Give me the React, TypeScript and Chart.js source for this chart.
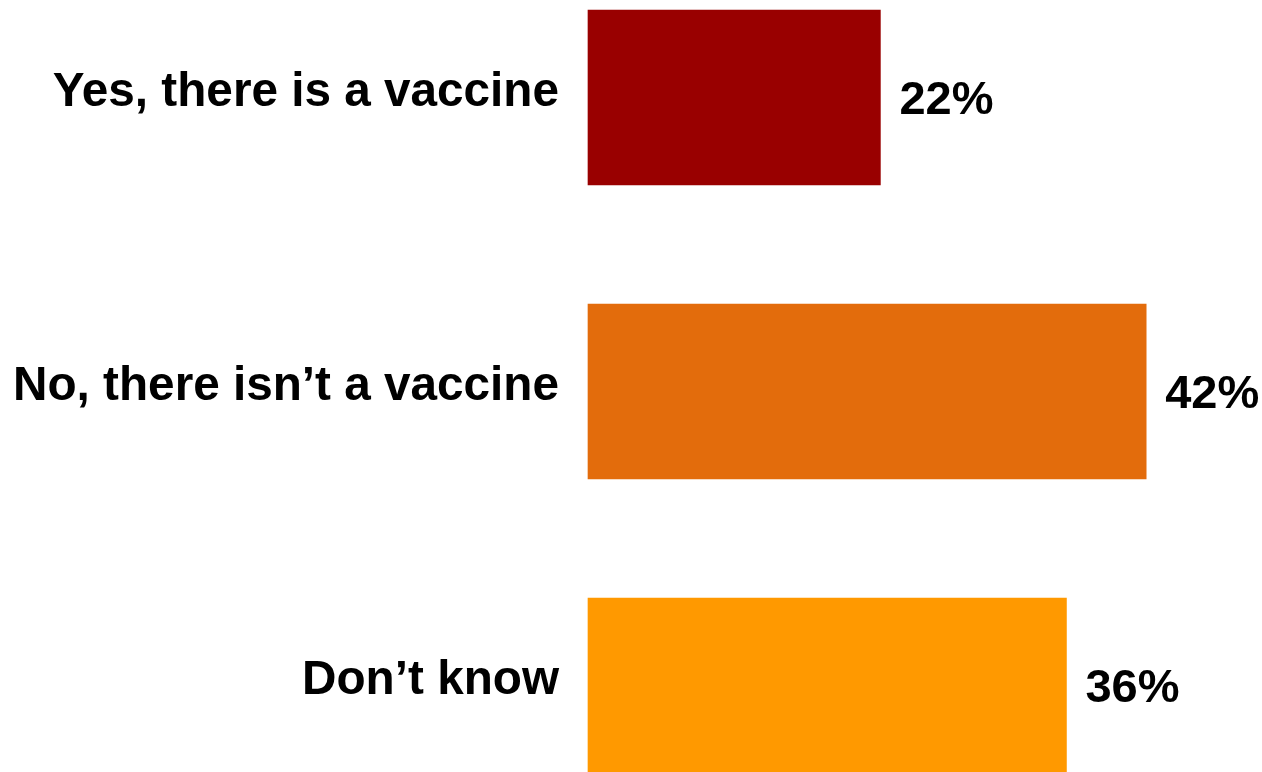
import React, { useEffect, useRef } from "react";
import { Chart, registerables } from "chart.js";

Chart.register(...registerables);

const categories = ["Yes, there is a vaccine", "No, there isn\u2019t a vaccine", "Don\u2019t know"];
const values = [22, 42, 36];
const barColors = ["#990000", "#E36C0C", "#FF9900"];
const valueLabels = ["22%", "42%", "36%"];

const FONT_FAMILY = '"Liberation Sans", Arial, Helvetica, sans-serif';

const valueLabelPlugin = {
  id: "valueLabels",
  afterDatasetsDraw(chart: any) {
    const ctx = chart.ctx;
    const meta = chart.getDatasetMeta(0);
    ctx.save();
    ctx.font = `bold 47px ${FONT_FAMILY}`;
    ctx.fillStyle = "#000000";
    ctx.textAlign = "left";
    ctx.textBaseline = "middle";
    meta.data.forEach((bar: any, i: number) => {
      ctx.fillText(valueLabels[i], bar.x + 19, bar.y + 4);
    });
    ctx.restore();
  },
};

export default function App() {
  const canvasRef = useRef<HTMLCanvasElement | null>(null);

  useEffect(() => {
    if (!canvasRef.current) return;
    const chart = new Chart(canvasRef.current, {
      type: "bar",
      data: {
        labels: categories,
        datasets: [
          {
            data: values,
            backgroundColor: barColors,
            borderWidth: 0,
            barThickness: 175,
            clip: false as any,
          },
        ],
      },
      options: {
        indexAxis: "y",
        animation: false,
        responsive: true,
        maintainAspectRatio: false,
        layout: { padding: { top: 97.5, bottom: 86.5, left: 0, right: 9.5 } },
        plugins: {
          legend: { display: false },
          tooltip: { enabled: false },
        },
        scales: {
          x: {
            display: false,
            min: 0,
            max: 50,
          },
          y: {
            offset: false,
            grid: { display: false, drawTicks: false },
            border: { display: false },
            ticks: {
              color: "#000000",
              padding: 29,
              labelOffset: -5,
              font: { family: FONT_FAMILY, size: 47.7, weight: "bold" },
            },
            afterFit(scale: any) {
              scale.width = 588;
            },
          },
        },
      },
      plugins: [valueLabelPlugin],
    });
    return () => chart.destroy();
  }, []);

  return (
    <div style={{ position: "absolute", left: 0, top: 0, width: 1262, height: 772, background: "#ffffff" }}>
      <canvas ref={canvasRef} />
    </div>
  );
}
